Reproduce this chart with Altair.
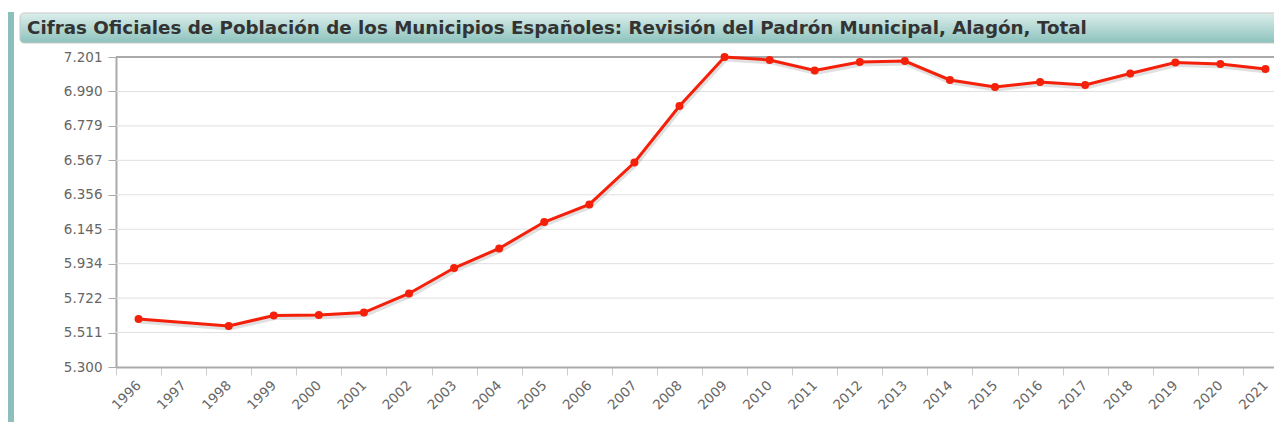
import altair as alt
import pandas as pd

years = [str(y) for y in range(1996, 2022)]
data_years = ["1996", "1998", "1999", "2000", "2001", "2002", "2003", "2004",
              "2005", "2006", "2007", "2008", "2009", "2010", "2011", "2012",
              "2013", "2014", "2015", "2016", "2017", "2018", "2019", "2020", "2021"]
population = [5594, 5551, 5616, 5619, 5634, 5751, 5907, 6027,
              6189, 6297, 6554, 6900, 7201, 7183, 7118, 7170,
              7176, 7060, 7017, 7048, 7029, 7100, 7167, 7158, 7127]
y_min, y_max = 5300, 7201
y_ticks = [y_min + i * (y_max - y_min) / 9 for i in range(10)]
title_text = "Cifras Oficiales de Población de los Municipios Españoles: Revisión del Padrón Municipal, Alagón, Total"

df = pd.DataFrame({"year": data_years, "pop": population})
grid_df = pd.DataFrame({"pop": y_ticks[1:]})

FONT = "DejaVu Sans"
W, H = 1158, 310
X_RANGE = 1172

x_enc = alt.X("year:O", sort=years,
              scale=alt.Scale(type="band", domain=years, range=[0, X_RANGE],
                              paddingInner=0, paddingOuter=0),
              axis=alt.Axis(title=None, labelAngle=-45, labelFont=FONT, labelFontSize=13.5,
                            labelColor="#666", tickBand="extent", tickColor="#ccc",
                            tickSize=8, domainColor="#aaa", domainWidth=2, labelPadding=3,
                            labelOffset=-5))
y_scale = alt.Scale(domain=[y_min, y_max], nice=False, zero=False)
y_axis = alt.Axis(title=None, values=y_ticks, labelFont=FONT, labelFontSize=13.5,
                  labelColor="#666", tickColor="#aaa", tickSize=8,
                  domainColor="#aaa", domainWidth=2, grid=False,
                  labelPadding=6,
                  labelExpr="replace(format(datum.value, ',.0f'), ',', '.')")
y_enc = alt.Y("pop:Q", scale=y_scale, axis=y_axis)

grid = alt.Chart(grid_df).mark_rule(color="#e0e0e0", strokeWidth=1).encode(
    y=y_enc, x=alt.value(0), x2=alt.value(1200))
top_border = alt.Chart(alt.Data(values=[{"pop": y_max}])).mark_rule(
    color="#aaa", strokeWidth=2).encode(
    y=y_enc, x=alt.value(0), x2=alt.value(1200))

shadow = alt.Chart(df).mark_line(color="#000", opacity=0.12, strokeWidth=5,
                                 xOffset=1, yOffset=2).encode(x=x_enc, y=y_enc)
line = alt.Chart(df).mark_line(color="#f5200a", strokeWidth=3).encode(x=x_enc, y=y_enc)
pts = alt.Chart(df).mark_circle(color="#f5200a", opacity=1, size=64).encode(x=x_enc, y=y_enc)

deco = alt.Data(values=[{"label": title_text}])
bar_left = alt.Chart(deco).mark_rect(color="#8cc0bb").encode(
    x=alt.value(-108), x2=alt.value(-102), y=alt.value(-45), y2=alt.value(380))
title_bar = alt.Chart(deco).mark_rect(
    color=alt.Gradient(gradient="linear", x1=0, y1=0, x2=0, y2=1,
                       stops=[alt.GradientStop(color="#dcefec", offset=0),
                              alt.GradientStop(color="#8cc2bc", offset=1)]),
    stroke="#c8c8c8", strokeWidth=1, cornerRadius=4).encode(
    x=alt.value(-96), x2=alt.value(1200), y=alt.value(-44), y2=alt.value(-14))
title_mark = alt.Chart(deco).mark_text(
    font=FONT, fontSize=18.3, fontWeight="bold", color="#333",
    align="left", baseline="alphabetic").encode(
    x=alt.value(-89), y=alt.value(-23), text="label:N")

chart = alt.layer(bar_left, title_bar, title_mark, grid, top_border,
                  shadow, line, pts).properties(
    width=W, height=H,
    autosize=alt.AutoSizeParams(type="none"),
    padding={"left": 108, "top": 49, "right": 0, "bottom": 55},
).configure_view(strokeWidth=0)

chart.save("out.html", embed_options={"renderer": "svg", "actions": False})
